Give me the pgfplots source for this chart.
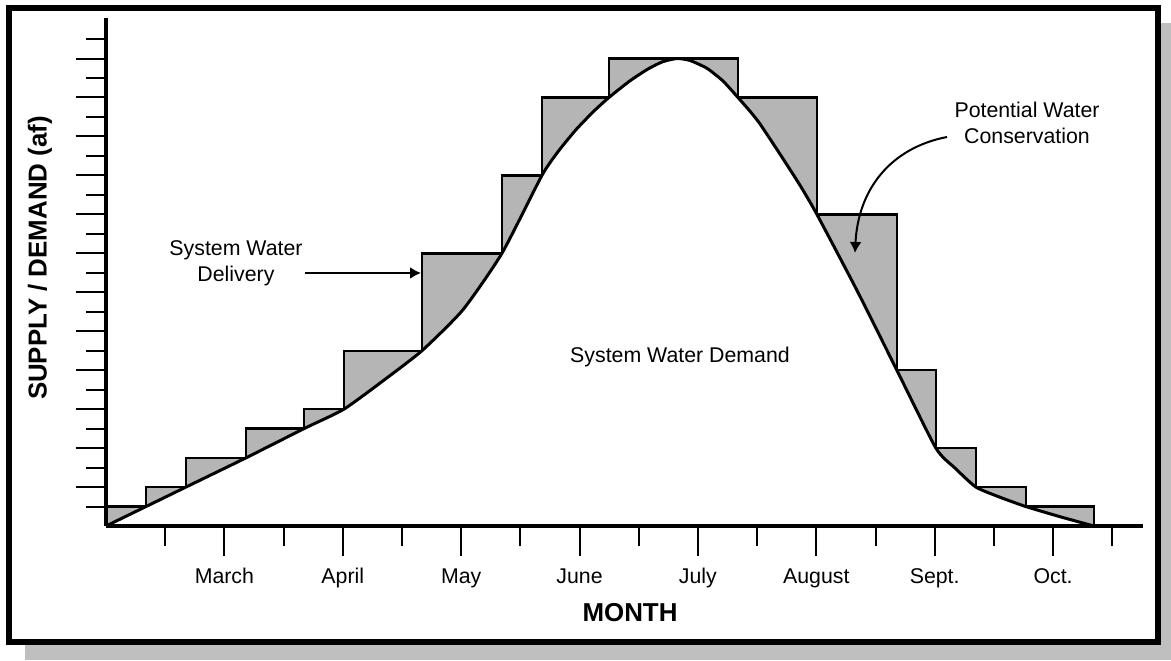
\documentclass[border=0pt]{standalone}
\usepackage{fontspec}
\setmainfont{Liberation Sans}
\usepackage{pgfplots}
\pgfplotsset{compat=1.18}
\usepackage{pgfplotstable}
\usetikzlibrary{arrows.meta}
\definecolor{stipple}{gray}{0.71}
\definecolor{shadowgray}{gray}{0.75}

% System water delivery (step function), x in half-month units
\pgfplotstableread{
x y
0 0
0 1
0.676 2
1.351 3.5
2.365 5
3.345 6
4.020 9
5.338 14
6.689 18
7.365 22
8.497 24
10.676 22
12.010 16
13.361 8
14.020 4
14.696 2
15.540 1
16.690 1
16.690 0
}\stepdata

% System water demand (curve)
\pgfplotstableread{
x y
0 0
0.676 1
1.351 2
2.365 3.5
3.345 5
4.020 6
4.700 7.5
5.338 9
6.030 11.1
6.689 14
7.365 18
7.650 19.27
7.950 20.38
8.250 21.32
8.497 22
8.850 22.85
9.150 23.45
9.400 23.83
9.645 24
9.865 23.90
10.152 23.50
10.422 22.85
10.676 22
10.878 21.30
11.047 20.65
11.385 19.10
11.723 17.50
12.010 16
12.686 12.1
13.361 8
14.020 4
14.341 2.98
14.696 2
15.101 1.48
15.540 1
16.115 0.48
16.690 0
}\curvedata

\begin{document}
\begin{tikzpicture}
\begin{scope}[x=0.5bp,y=-0.5bp,shift={(-53bp,263bp)}]
\path[use as bounding box] (0,0) rectangle (1171,660);
\fill[shadowgray] (25,23) rectangle (1171,660);
\draw[line width=3bp, fill=white] (9,8) rectangle (1158,641.5);
\end{scope}

\begin{axis}[
  scale only axis, width=518.5bp, height=254bp,
  xmin=0, xmax=17.52, ymin=0, ymax=26.08,
  axis x line=bottom, axis y line=left,
  x axis line style={-, line width=1.8bp},
  y axis line style={-, line width=2.4bp},
  xtick={2,4,...,16},
  xticklabels={March,April,May,June,July,August,Sept.,Oct.},
  minor xtick={1,3,...,17},
  ytick={2,4,...,24}, yticklabels={},
  minor ytick={1,3,...,25},
  tick align=outside, major tick length=15bp, minor tick length=10bp,
  tick style={black, line width=1bp},
  minor tick style={black, line width=1bp},
  tick label style={font=\fontsize{10.7}{12}\selectfont},
  xticklabel style={anchor=base, yshift=-13.5bp},
  xlabel={MONTH}, ylabel={SUPPLY / DEMAND (af)},
  label style={font=\fontsize{13}{15}\selectfont\bfseries},
  xlabel style={at={(axis description cs:0.5053,-0.1713)}, anchor=center},
  ylabel style={at={(axis description cs:-0.0636,0.5276)}, anchor=center},
  axis on top, clip=false,
]
\addplot[const plot, fill=stipple, draw=none] table {\stepdata} \closedcycle;
\addplot[smooth, tension=0.35, fill=white, draw=none] table {\curvedata} \closedcycle;
\addplot[smooth, tension=0.35, black, line width=1.5bp] table {\curvedata};
\addplot[const plot, black, line width=1.2bp] table {\stepdata};
\end{axis}

\begin{scope}[x=0.5bp,y=-0.5bp,shift={(-53bp,263bp)}, font=\fontsize{10.7}{13.2}\selectfont]
\node[align=center] at (236,263) {System Water\\Delivery};
\draw[line width=1bp, -{Latex[length=5.5bp,width=6bp]}] (305,273) -- (421,273);
\node at (680,357) {System Water Demand};
\node[align=center] at (1027,123) {Potential Water\\Conservation};
\draw[line width=1bp, -{Latex[length=5.5bp,width=6bp]}] (947,137) .. controls (890,148) and (858,190) .. (855,253);
\end{scope}
\end{tikzpicture}
\end{document}
